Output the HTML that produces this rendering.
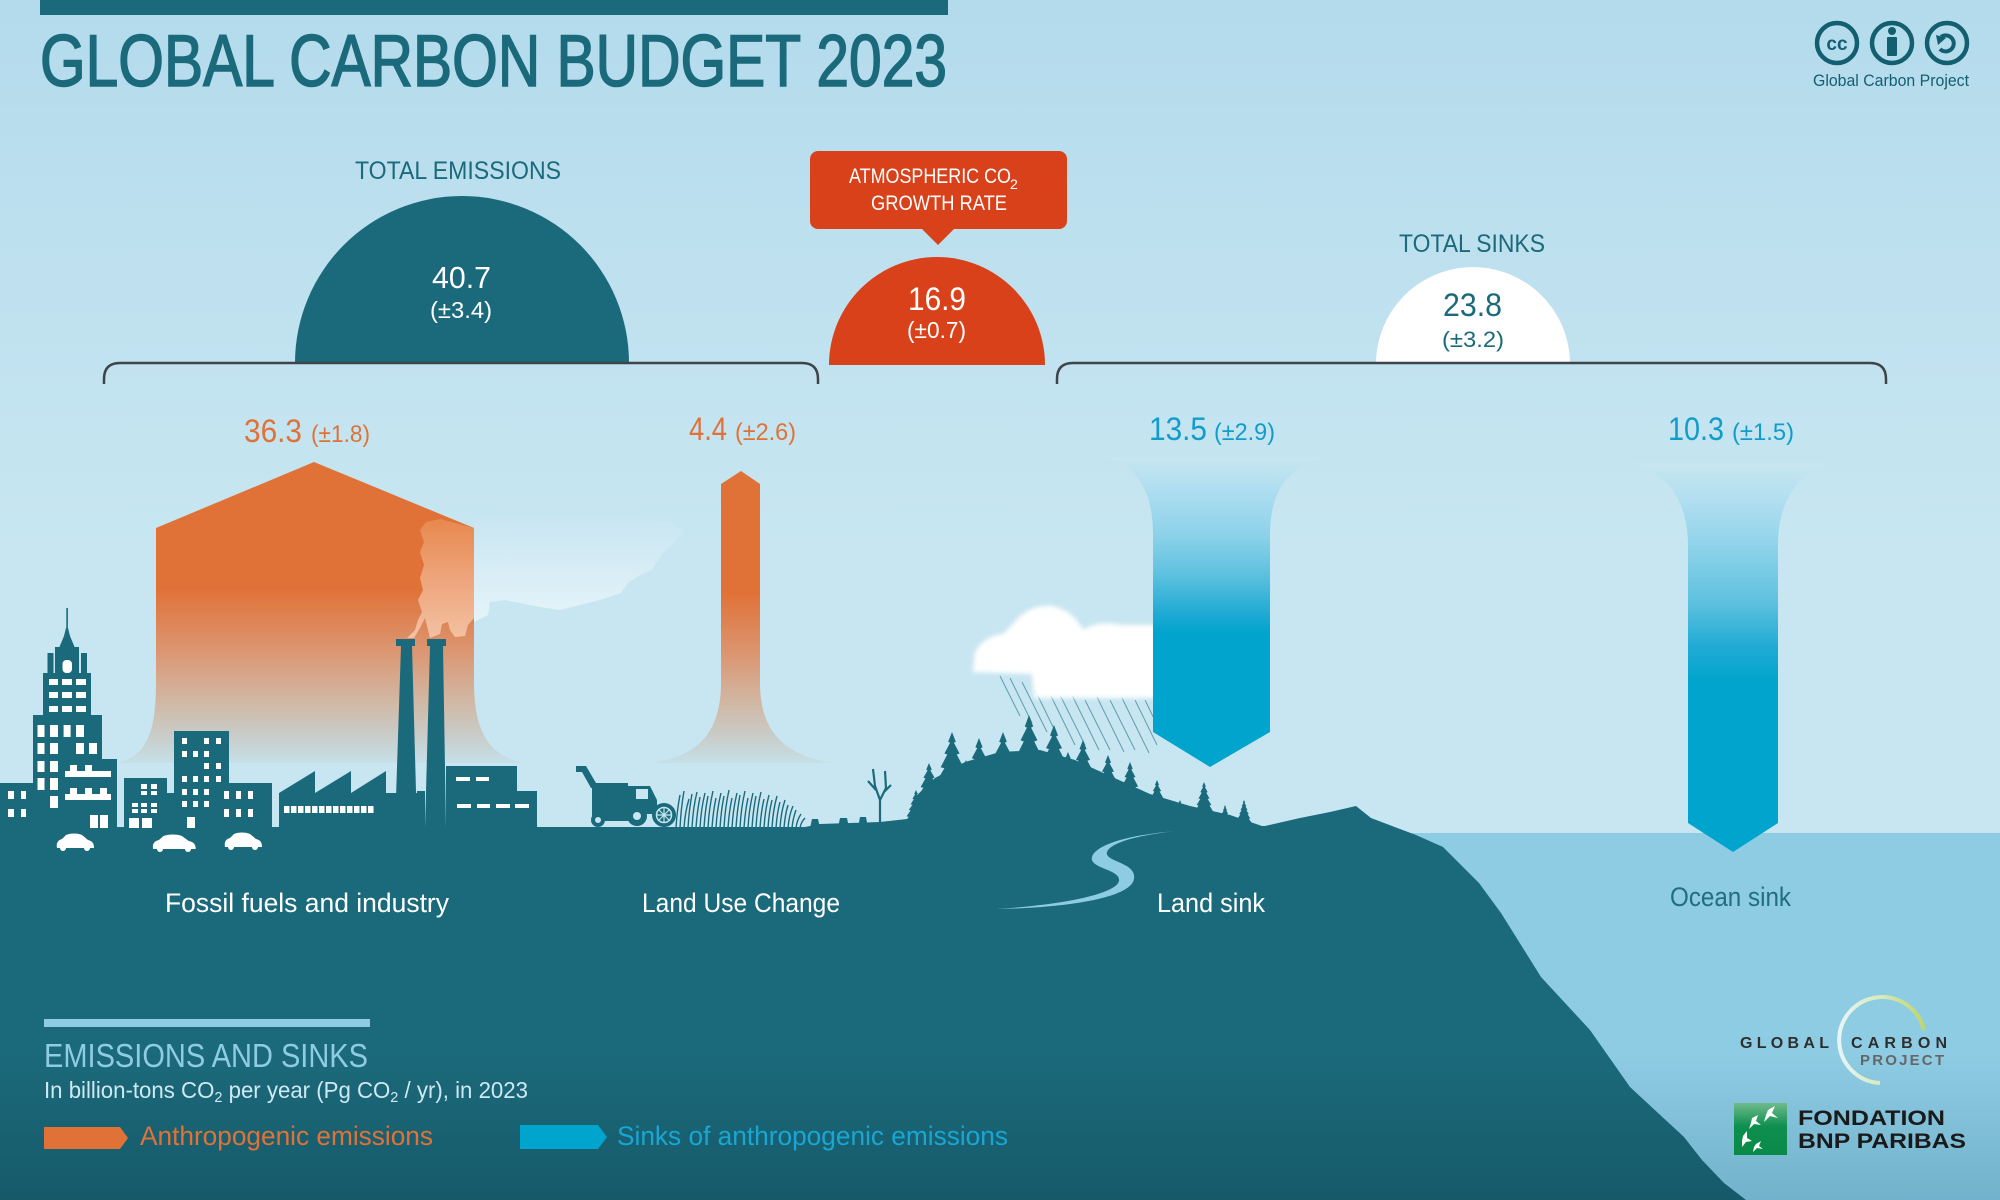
<!DOCTYPE html>
<html><head><meta charset="utf-8"><style>
html,body{margin:0;padding:0;width:2000px;height:1200px;overflow:hidden;background:#c6e5f1}
svg{display:block}
text{font-family:"Liberation Sans",sans-serif}
</style></head><body>
<svg width="2000" height="1200" viewBox="0 0 2000 1200" xmlns="http://www.w3.org/2000/svg">
<defs>
<linearGradient id="sky" x1="0" y1="0" x2="0" y2="840" gradientUnits="userSpaceOnUse">
<stop offset="0" stop-color="#b3dbec"/><stop offset="0.35" stop-color="#bfe1ef"/><stop offset="0.65" stop-color="#c7e6f1"/><stop offset="1" stop-color="#c8e6f1"/></linearGradient>
<linearGradient id="land" x1="0" y1="820" x2="0" y2="1200" gradientUnits="userSpaceOnUse">
<stop offset="0" stop-color="#1b6a7b"/><stop offset="0.6" stop-color="#1b6a7b"/><stop offset="1" stop-color="#165a6a"/></linearGradient>
<linearGradient id="sea" x1="0" y1="833" x2="0" y2="1200" gradientUnits="userSpaceOnUse">
<stop offset="0" stop-color="#8ecce4"/><stop offset="0.6" stop-color="#8ecce4"/><stop offset="1" stop-color="#72b2cb"/></linearGradient>
<linearGradient id="og1" x1="0" y1="462" x2="0" y2="764" gradientUnits="userSpaceOnUse">
<stop offset="0" stop-color="#e07238"/><stop offset="0.42" stop-color="#e07238"/><stop offset="0.62" stop-color="#dc9570"/><stop offset="0.79" stop-color="#d1b7a3"/><stop offset="0.9" stop-color="#c9cbc7"/><stop offset="1" stop-color="#c6e0e9"/></linearGradient>
<linearGradient id="og2" x1="0" y1="471" x2="0" y2="764" gradientUnits="userSpaceOnUse">
<stop offset="0" stop-color="#e07238"/><stop offset="0.42" stop-color="#e07238"/><stop offset="0.62" stop-color="#dc9570"/><stop offset="0.79" stop-color="#d1b7a3"/><stop offset="0.9" stop-color="#c9cbc7"/><stop offset="1" stop-color="#c6e0e9"/></linearGradient>
<linearGradient id="bg1" x1="0" y1="457" x2="0" y2="767" gradientUnits="userSpaceOnUse">
<stop offset="0" stop-color="#c8e6f1"/><stop offset="0.1" stop-color="#b0def0"/><stop offset="0.25" stop-color="#8dd2e9"/><stop offset="0.38" stop-color="#5dc1df"/><stop offset="0.5" stop-color="#22abd4"/><stop offset="0.57" stop-color="#00a4cd"/><stop offset="1" stop-color="#00a4cd"/></linearGradient>
<linearGradient id="bg2" x1="0" y1="463" x2="0" y2="852" gradientUnits="userSpaceOnUse">
<stop offset="0" stop-color="#c8e6f1"/><stop offset="0.1" stop-color="#b0def0"/><stop offset="0.22" stop-color="#8dd2e9"/><stop offset="0.36" stop-color="#5dc1df"/><stop offset="0.47" stop-color="#22abd4"/><stop offset="0.56" stop-color="#00a4cd"/><stop offset="1" stop-color="#00a4cd"/></linearGradient>
<linearGradient id="smk" x1="0" y1="518" x2="0" y2="625" gradientUnits="userSpaceOnUse">
<stop offset="0" stop-color="#c9e6f2"/><stop offset="1" stop-color="#e6f4fa"/></linearGradient>
<linearGradient id="pink" x1="0" y1="520" x2="0" y2="640" gradientUnits="userSpaceOnUse">
<stop offset="0" stop-color="#e8894f"/><stop offset="0.5" stop-color="#eea57c"/><stop offset="1" stop-color="#f3c2a4"/></linearGradient>
<linearGradient id="arcg" x1="1835" y1="0" x2="1930" y2="0" gradientUnits="userSpaceOnUse">
<stop offset="0" stop-color="#e8f6fb"/><stop offset="0.5" stop-color="#d7e9b8"/><stop offset="1" stop-color="#bcd45a"/></linearGradient>
<linearGradient id="bnp" x1="0" y1="1103" x2="0" y2="1155" gradientUnits="userSpaceOnUse">
<stop offset="0" stop-color="#6fbb8b"/><stop offset="0.45" stop-color="#0e8f4f"/><stop offset="1" stop-color="#0a8a48"/></linearGradient>
<filter id="blur" x="-20%" y="-20%" width="140%" height="140%"><feGaussianBlur stdDeviation="2.2"/></filter>
<path id="tree" d="M0,0 L4,10 L2,11 L8,22 L5,23 L12,36 L8,37 L16,50 L12,51 L21,66 L16,67 L26,82 L21,83 L32,100 L-32,100 L-21,83 L-26,82 L-16,67 L-21,66 L-12,51 L-16,50 L-8,37 L-12,36 L-5,23 L-8,22 L-2,11 L-4,10 Z"/>
<path id="car" d="M1,14 C0,9 2,6 6,5 L10,1 C14,-1 22,-1 26,1 L32,6 C36,7 38,9 38,14 Z"/>
</defs>

<!-- sky -->
<rect x="0" y="0" width="2000" height="1200" fill="url(#sky)"/>
<!-- ocean -->
<rect x="1300" y="833" width="700" height="367" fill="url(#sea)"/>

<!-- title -->
<rect x="40" y="0" width="908" height="15" fill="#1b6a7b"/>
<text x="40" y="86" font-size="73" fill="#1b6a7b" stroke="#1b6a7b" stroke-width="1.6" textLength="907" lengthAdjust="spacingAndGlyphs">GLOBAL CARBON BUDGET 2023</text>

<!-- CC icons -->
<g fill="none" stroke="#145f6f" stroke-width="4.5">
<circle cx="1837" cy="43" r="20"/><circle cx="1892" cy="43" r="20"/><circle cx="1947" cy="43" r="20"/>
<path d="M1941,37 A8,8 0 1 1 1940,49" stroke-width="4"/>
</g>
<text x="1837" y="50" font-size="19" font-weight="bold" fill="#145f6f" text-anchor="middle">cc</text>
<circle cx="1892" cy="31" r="4" fill="#145f6f"/>
<rect x="1887" y="37" width="10" height="19" rx="1" fill="#145f6f"/>
<path d="M1936,35 L1946,38 L1938,45 Z" fill="#145f6f"/>
<text x="1813" y="86" font-size="17" fill="#145f6f" textLength="156" lengthAdjust="spacingAndGlyphs">Global Carbon Project</text>

<!-- totals -->
<text x="355" y="179" font-size="25" fill="#1b6a7b" textLength="206" lengthAdjust="spacingAndGlyphs">TOTAL EMISSIONS</text>
<path d="M295,363 A167,167 0 0 1 629,363 Z" fill="#1b6a7b"/>
<text x="432" y="288" font-size="31" fill="#fff" textLength="59" lengthAdjust="spacingAndGlyphs">40.7</text>
<text x="430" y="318" font-size="23" fill="#fff" textLength="62" lengthAdjust="spacingAndGlyphs">(±3.4)</text>

<rect x="810" y="151" width="257" height="78" rx="8" fill="#d8411a"/>
<path d="M921,228 L955,228 L938,245 Z" fill="#d8411a"/>
<text x="849" y="183" font-size="21" fill="#fff" textLength="162" lengthAdjust="spacingAndGlyphs">ATMOSPHERIC CO</text>
<text x="1010" y="189" font-size="14" fill="#fff">2</text>
<text x="871" y="210" font-size="21" fill="#fff" textLength="136" lengthAdjust="spacingAndGlyphs">GROWTH RATE</text>
<path d="M829,365 A108,108 0 0 1 1045,365 Z" fill="#d8411a"/>
<text x="908" y="310" font-size="32" fill="#fff" textLength="58" lengthAdjust="spacingAndGlyphs">16.9</text>
<text x="907" y="338" font-size="23" fill="#fff" textLength="59" lengthAdjust="spacingAndGlyphs">(±0.7)</text>

<text x="1399" y="252" font-size="25" fill="#1b6a7b" textLength="146" lengthAdjust="spacingAndGlyphs">TOTAL SINKS</text>
<path d="M1376,364 A97,97 0 0 1 1570,364 Z" fill="#fff"/>
<text x="1443" y="316" font-size="32" fill="#1b6a7b" textLength="59" lengthAdjust="spacingAndGlyphs">23.8</text>
<text x="1442" y="347" font-size="22" fill="#1b6a7b" textLength="62" lengthAdjust="spacingAndGlyphs">(±3.2)</text>

<!-- brackets -->
<g fill="none" stroke="#3e4549" stroke-width="2.5">
<path d="M104,384 L104,379 Q104,363 120,363 L802,363 Q818,363 818,379 L818,384"/>
<path d="M1057,384 L1057,379 Q1057,363 1073,363 L1870,363 Q1886,363 1886,379 L1886,384"/>
</g>

<!-- value labels -->
<text x="244" y="442" font-size="32" fill="#e07238" textLength="58" lengthAdjust="spacingAndGlyphs">36.3</text>
<text x="311" y="442" font-size="24" fill="#e07238" textLength="59" lengthAdjust="spacingAndGlyphs">(±1.8)</text>
<text x="689" y="440" font-size="32" fill="#e07238" textLength="38" lengthAdjust="spacingAndGlyphs">4.4</text>
<text x="735" y="440" font-size="24" fill="#e07238" textLength="61" lengthAdjust="spacingAndGlyphs">(±2.6)</text>
<text x="1149" y="440" font-size="32" fill="#129ccb" textLength="58" lengthAdjust="spacingAndGlyphs">13.5</text>
<text x="1214" y="440" font-size="24" fill="#129ccb" textLength="61" lengthAdjust="spacingAndGlyphs">(±2.9)</text>
<text x="1668" y="440" font-size="32" fill="#129ccb" textLength="56" lengthAdjust="spacingAndGlyphs">10.3</text>
<text x="1732" y="440" font-size="24" fill="#129ccb" textLength="62" lengthAdjust="spacingAndGlyphs">(±1.5)</text>

<!-- emission arrows -->
<path d="M314,462 L474,528 L474,683 C474,738 494,757 524,763 L116,763 C144,757 156,738 156,683 L156,528 Z" fill="url(#og1)"/>
<path d="M741,471 L760,484 L760,683 C760,738 792,757 834,763 L652,763 C692,757 721,738 721,683 L721,484 Z" fill="url(#og2)"/>

<!-- smoke -->
<path d="M474,518 L560,517 L640,519 L673,523 L682,533 L672,545 L663,553 L652,570 L640,575 L628,583 L621,593 L600,600 L580,605 L560,610 L540,607 L520,603 L505,600 L490,602 L488,615 L478,620 L474,622 Z" fill="url(#smk)"/>
<path d="M407,638 L415,630 L418,620 L422,612 L418,600 L423,590 L420,578 L424,565 L420,552 L424,542 L420,530 L426,522 L440,519 L474,528 L474,618 L468,625 L465,636 L455,637 L450,630 L448,622 L442,624 L440,634 L430,638 L427,626 L425,618 L420,628 L414,638 Z" fill="url(#pink)"/>

<!-- cloud + rain -->
<g stroke="#4f90a4" stroke-width="1" opacity="0.85">
<path d="M1000,676 l20,40 M1010,678 l22,45 M1022,682 l25,50 M1035,690 l22,45 M1048,690 l27,55 M1060,695 l25,50 M1072,695 l27,55 M1085,700 l25,50 M1097,697 l27,55 M1110,700 l25,50 M1122,698 l27,55 M1135,700 l22,45 M1145,700 l17,35"/>
</g>
<path d="M973,672 L975,652 Q984,636 1003,634 L1013,624 Q1028,604 1052,606 Q1073,610 1083,630 Q1098,620 1120,625 L1155,625 L1155,698 L1034,698 L1032,674 Z" fill="#fff" filter="url(#blur)"/>

<!-- sink arrows -->
<path d="M1103,457 C1140,465 1153,495 1153,535 L1153,732 L1210,767 L1270,732 L1270,535 C1270,495 1285,465 1328,457 Z" fill="url(#bg1)"/>
<path d="M1630,463 C1670,472 1688,505 1688,545 L1688,823 L1733,852 L1778,823 L1778,545 C1778,505 1795,472 1833,463 Z" fill="url(#bg2)"/>

<!-- land -->
<path d="M0,827 L805,827 L820,824 L880,822 L916,818 L1000,818 L1100,822 L1200,826 L1265,826 L1300,818 L1330,812 L1356,806 L1371,818 L1416,835 L1443,847 L1479,883 L1501,913 L1541,977 L1590,1030 L1630,1087 L1684,1137 L1702,1160 L1724,1183 L1746,1200 L0,1200 Z" fill="url(#land)"/>

<!-- city -->
<g fill="#1b6a7b">
<rect x="66.3" y="608" width="1.6" height="24"/>
<polygon points="59,648 64,636 66,628 68,628 70,636 75,648"/>
<rect x="55" y="647" width="24" height="27"/>
<rect x="47.5" y="653" width="6" height="21"/><rect x="81" y="653" width="6" height="21"/>
<rect x="43" y="673" width="48" height="43"/>
<rect x="33" y="715" width="69" height="113"/>
<rect x="102" y="759" width="15" height="69"/>
<rect x="0" y="783" width="33" height="45"/>
<rect x="124" y="778" width="43" height="50"/>
<rect x="167" y="793" width="7" height="35"/>
<rect x="174" y="731" width="55" height="97"/>
<rect x="229" y="783" width="43" height="45"/>
<path d="M279,828 L279,793 L315,771 L315,793 L351,771 L351,793 L386,771 L386,793 L417,793 L417,791 L425,791 L425,828 Z"/>
<path d="M395,828 L401,646 L396,646 L396,639 L415,639 L415,646 L412,646 L417,828 Z"/>
<path d="M425,828 L430,646 L427,646 L427,639 L446,639 L446,646 L443,646 L446,828 Z"/>
<rect x="446" y="766" width="71" height="62"/>
<rect x="517" y="791" width="20" height="37"/>
</g>
<g fill="#fff">
<rect x="62.5" y="660" width="9.5" height="13" rx="4"/>
<rect x="49" y="679" width="9" height="6"/><rect x="62" y="679" width="10" height="6"/><rect x="76" y="679" width="10" height="6"/>
<rect x="49" y="692" width="9" height="6"/><rect x="62" y="692" width="10" height="6"/><rect x="76" y="692" width="10" height="6"/>
<rect x="49" y="706" width="9" height="6"/><rect x="62" y="706" width="10" height="6"/><rect x="76" y="706" width="10" height="6"/>
<rect x="37.5" y="725" width="7" height="12"/><rect x="50" y="725" width="8" height="12"/><rect x="63.6" y="725" width="7" height="12"/><rect x="76" y="725" width="8" height="12"/>
<rect x="37.5" y="743" width="7" height="11"/><rect x="50" y="743" width="8" height="11"/><rect x="76" y="743" width="8" height="11"/><rect x="89" y="743" width="8" height="11"/>
<rect x="37.5" y="761" width="7" height="11"/><rect x="50" y="761" width="8" height="11"/>
<rect x="65" y="771" width="46" height="6"/><rect x="70" y="765" width="7" height="6"/><rect x="85" y="765" width="7" height="6"/>
<rect x="37.5" y="778" width="7" height="12"/><rect x="50" y="778" width="8" height="12"/>
<rect x="65" y="794" width="46" height="6"/><rect x="70" y="788" width="7" height="6"/><rect x="85" y="788" width="7" height="6"/><rect x="100" y="788" width="7" height="6"/>
<rect x="50" y="796" width="8" height="12"/>
<rect x="90" y="815" width="8" height="13"/><rect x="100" y="815" width="8" height="13"/>
<rect x="8" y="791" width="6" height="8"/><rect x="21" y="791" width="5" height="8"/>
<rect x="8" y="809" width="6" height="8"/><rect x="21" y="809" width="5" height="8"/>
<rect x="141" y="784" width="6" height="5"/><rect x="151" y="784" width="6" height="5"/>
<rect x="141" y="791" width="6" height="4"/><rect x="151" y="791" width="6" height="4"/>
<rect x="132" y="803" width="6" height="4"/><rect x="141" y="803" width="6" height="4"/><rect x="151" y="803" width="6" height="4"/>
<rect x="132" y="809" width="6" height="4"/><rect x="141" y="809" width="6" height="4"/><rect x="151" y="809" width="6" height="4"/>
<rect x="129" y="818" width="10" height="10"/><rect x="142" y="818" width="10" height="10"/>
<rect x="182" y="738" width="5" height="6"/><rect x="204" y="738" width="5" height="6"/><rect x="216" y="738" width="5" height="6"/>
<rect x="182" y="751" width="5" height="6"/><rect x="193" y="751" width="5" height="6"/><rect x="204" y="751" width="5" height="6"/>
<rect x="204" y="763" width="5" height="6"/><rect x="216" y="763" width="5" height="6"/>
<rect x="182" y="776" width="5" height="6"/><rect x="193" y="776" width="5" height="6"/><rect x="204" y="776" width="5" height="6"/><rect x="216" y="776" width="5" height="6"/>
<rect x="182" y="789" width="5" height="6"/><rect x="193" y="789" width="5" height="6"/><rect x="204" y="789" width="5" height="6"/>
<rect x="182" y="801" width="5" height="6"/><rect x="193" y="801" width="5" height="6"/><rect x="204" y="801" width="5" height="6"/>
<rect x="187" y="817" width="8" height="11"/>
<rect x="224" y="791" width="5" height="8"/><rect x="236" y="791" width="5" height="8"/><rect x="248" y="791" width="5" height="8"/>
<rect x="224" y="809" width="5" height="8"/><rect x="236" y="809" width="5" height="8"/><rect x="248" y="809" width="5" height="8"/>
<rect x="456" y="777" width="14" height="4"/><rect x="476" y="777" width="13" height="4"/>
<rect x="457" y="804" width="14" height="4"/><rect x="477" y="804" width="13" height="4"/><rect x="496" y="804" width="14" height="4"/><rect x="515" y="804" width="14" height="4"/>
</g>
<line x1="284" y1="809.5" x2="375" y2="809.5" stroke="#fff" stroke-width="7" stroke-dasharray="5.5 1.5"/>
<g fill="#fff">
<use href="#car" transform="translate(56,834)"/>
<circle cx="63" cy="848" r="3"/><circle cx="87" cy="848" r="3"/>
<use href="#car" transform="translate(152,835) scale(1.15,1)"/>
<circle cx="160" cy="849" r="3"/><circle cx="188" cy="849" r="3"/>
<use href="#car" transform="translate(224,833)"/>
<circle cx="231" cy="847" r="3"/><circle cx="255" cy="847" r="3"/>
</g>

<!-- tractor, grass, stumps, dead tree -->
<g fill="#1b6a7b">
<polygon points="576,766 586,766 596,783 602,783 602,788 591,788 582,772 576,772"/>
<rect x="592" y="783" width="36" height="38"/>
<path d="M626,786 L650,786 L657,800 L657,814 L626,814 Z"/>
<circle cx="664" cy="815" r="12"/>
<circle cx="598" cy="820" r="7"/>
<circle cx="637" cy="816" r="10"/>
<polygon points="810,828 812,819 818,819 820,828"/>
<polygon points="838,828 840,818 847,818 849,828"/>
<polygon points="858,828 860,817 866,817 868,828"/>
</g>
<rect x="636" y="789" width="12" height="10" fill="#c8e6f1"/>
<circle cx="664" cy="815" r="7.5" fill="none" stroke="#c8e6f1" stroke-width="1.5"/>
<path d="M664,808 L664,822 M657,815 L671,815 M659,810 L669,820 M669,810 L659,820" stroke="#c8e6f1" stroke-width="1.2"/>
<circle cx="598" cy="820" r="3" fill="#c8e6f1"/>
<circle cx="637" cy="816" r="4" fill="#c8e6f1"/>
<path fill="none" stroke="#1b6a7b" stroke-width="1.4" d="M676,828 Q677,810 680,795 M680,828 Q681,808 684,791 M684,828 Q685,812 689,799 M688,828 Q689,810 692,794 M692,828 Q693,808 697,792 M696,828 Q697,812 700,797 M700,828 Q701,809 705,793 M704,828 Q705,811 708,796 M708,828 Q709,808 713,791 M712,828 Q713,812 716,798 M716,828 Q717,809 721,793 M720,828 Q721,811 724,796 M724,828 Q725,808 729,790 M728,828 Q729,812 732,798 M732,828 Q733,809 737,793 M736,828 Q737,811 740,795 M740,828 Q741,808 745,791 M744,828 Q745,812 748,798 M748,828 Q749,809 753,793 M752,828 Q753,811 756,796 M756,828 Q757,808 761,792 M760,828 Q761,812 764,799 M764,828 Q765,810 769,795 M768,828 Q769,812 772,800 M772,828 Q773,810 777,796 M776,828 Q777,813 780,802 M780,828 Q781,812 785,800 M784,828 Q785,815 788,805 M788,828 Q789,815 793,806 M792,828 Q793,818 796,810 M796,828 Q797,820 801,814 M800,828 Q801,822 805,818"/>
<path fill="none" stroke="#1b6a7b" stroke-width="2.2" d="M880,823 L880,800 L875,786 L873,769 M880,800 L886,788 L885,771 M876,790 L868,781 M884,792 L891,785"/>

<!-- forest -->
<polygon points="912,830 914,798 935,778 965,762 1000,752 1040,750 1075,760 1110,776 1150,794 1190,806 1230,815 1262,826 1262,830" fill="#1b6a7b"/>
<g fill="#1b6a7b">
<use href="#tree" transform="translate(916,790) scale(0.45,0.4)"/>
<use href="#tree" transform="translate(929,763) scale(0.7,0.67)"/>
<use href="#tree" transform="translate(952,732) scale(0.95,0.98)"/>
<use href="#tree" transform="translate(966,760) scale(0.75,0.7)"/>
<use href="#tree" transform="translate(979,738) scale(0.9,0.92)"/>
<use href="#tree" transform="translate(1003,732) scale(0.95,0.98)"/>
<use href="#tree" transform="translate(1017,752) scale(0.8,0.8)"/>
<use href="#tree" transform="translate(1029,715) scale(1.05,1.15)"/>
<use href="#tree" transform="translate(1054,725) scale(1.0,1.05)"/>
<use href="#tree" transform="translate(1068,752) scale(0.8,0.78)"/>
<use href="#tree" transform="translate(1083,740) scale(0.88,0.9)"/>
<use href="#tree" transform="translate(1096,770) scale(0.65,0.6)"/>
<use href="#tree" transform="translate(1108,755) scale(0.75,0.75)"/>
<use href="#tree" transform="translate(1130,762) scale(0.68,0.68)"/>
<use href="#tree" transform="translate(1157,780) scale(0.52,0.5)"/>
<use href="#tree" transform="translate(1180,800) scale(0.32,0.3)"/>
<use href="#tree" transform="translate(1204,782) scale(0.46,0.46)"/>
<use href="#tree" transform="translate(1225,805) scale(0.26,0.24)"/>
<use href="#tree" transform="translate(1244,800) scale(0.3,0.28)"/>
</g>

<!-- river -->
<path d="M1176,831 C1130,835 1096,844 1092,857 C1089,869 1121,869 1119,881 C1116,894 1062,905 996,909 C1066,908 1131,898 1134,879 C1137,862 1104,862 1107,852 C1111,842 1140,835 1176,831 Z" fill="#8ecce4"/>

<!-- labels -->
<text x="165" y="912" font-size="27" fill="#fff" textLength="284" lengthAdjust="spacingAndGlyphs">Fossil fuels and industry</text>
<text x="642" y="912" font-size="27" fill="#fff" textLength="198" lengthAdjust="spacingAndGlyphs">Land Use Change</text>
<text x="1157" y="912" font-size="27" fill="#fff" textLength="108" lengthAdjust="spacingAndGlyphs">Land sink</text>
<text x="1670" y="906" font-size="27" fill="#206e80" textLength="121" lengthAdjust="spacingAndGlyphs">Ocean sink</text>

<!-- legend -->
<rect x="44" y="1019" width="326" height="8" fill="#8ecce4"/>
<text x="44" y="1067" font-size="33" fill="#8ecce4" textLength="324" lengthAdjust="spacingAndGlyphs">EMISSIONS AND SINKS</text>
<text x="44" y="1098" font-size="23" fill="#cfe9f3" textLength="484" lengthAdjust="spacingAndGlyphs">In billion-tons CO<tspan font-size="15" dy="4">2</tspan><tspan dy="-4"> per year (Pg CO</tspan><tspan font-size="15" dy="4">2</tspan><tspan dy="-4"> / yr), in 2023</tspan></text>
<path d="M44,1127 L120,1127 L128,1138 L120,1149 L44,1149 Z" fill="#e07238"/>
<text x="140" y="1145" font-size="27" fill="#e07238" textLength="293" lengthAdjust="spacingAndGlyphs">Anthropogenic emissions</text>
<path d="M520,1125 L598,1125 L607,1137 L598,1149 L520,1149 Z" fill="#00a4cd"/>
<text x="617" y="1145" font-size="27" fill="#1aa6d3" textLength="391" lengthAdjust="spacingAndGlyphs">Sinks of anthropogenic emissions</text>

<!-- GCP logo -->
<path d="M1924,1030 A43,43 0 1 0 1880,1083" fill="none" stroke="url(#arcg)" stroke-width="4"/>
<text x="1740" y="1048" font-size="16" font-weight="bold" fill="#2e2e2e" textLength="89" lengthAdjust="spacing">GLOBAL</text>
<text x="1851" y="1048" font-size="16" font-weight="bold" fill="#2e2e2e" textLength="96" lengthAdjust="spacing">CARBON</text>
<text x="1860" y="1065" font-size="15" font-weight="bold" fill="#666" textLength="84" lengthAdjust="spacing">PROJECT</text>

<!-- BNP -->
<rect x="1734" y="1103" width="53" height="52" fill="url(#bnp)"/>
<g fill="#fff">
<path d="M1768,1110 L1775,1106 L1772,1113 L1778,1118 L1770,1116 L1764,1122 L1766,1115 Z"/>
<path d="M1752,1118 L1758,1115 L1756,1121 L1761,1125 L1754,1124 L1749,1129 L1751,1123 Z"/>
<path d="M1743,1136 L1747,1131 L1747,1138 L1752,1141 L1746,1142 L1742,1147 L1742,1141 Z"/>
<path d="M1756,1144 L1761,1141 L1759,1146 L1763,1149 L1757,1148 L1753,1152 L1754,1147 Z"/>
</g>
<text x="1798" y="1125" font-size="21" font-weight="bold" fill="#1a1a1a" textLength="147" lengthAdjust="spacingAndGlyphs">FONDATION</text>
<text x="1798" y="1148" font-size="21" font-weight="bold" fill="#1a1a1a" textLength="168" lengthAdjust="spacingAndGlyphs">BNP PARIBAS</text>
</svg>
</body></html>
